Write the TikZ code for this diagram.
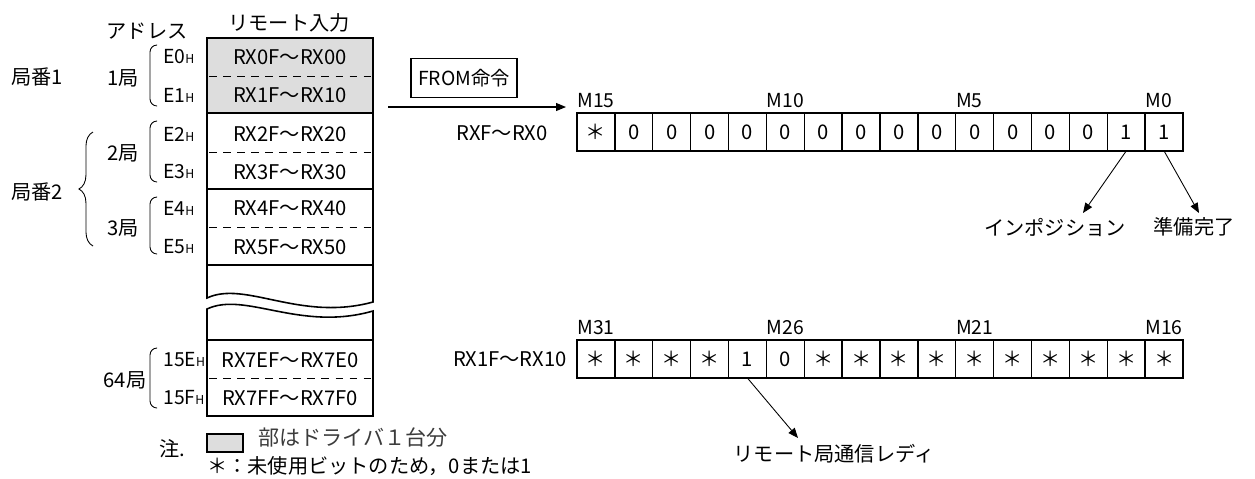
\documentclass[tikz,border=0pt]{standalone}
\usepackage{fontspec}
\setmainfont{Noto Sans CJK JP}
\usetikzlibrary{arrows.meta,decorations.pathreplacing}

\definecolor{shadegray}{RGB}{221,221,221}
\definecolor{notegray}{RGB}{60,60,60}
\newcommand{\addrH}{{\fontsize{7}{7}\selectfont H}}

\begin{document}
\begin{tikzpicture}[x=0.02cm,y=-0.02cm]
\tikzset{
  bitcell/.style={draw=black,line width=0.8pt,minimum width=0.7575cm,minimum height=0.76cm,inner sep=0pt,outer sep=0pt,font=\fontsize{11.5}{11.5}\selectfont},
  bitlabel/.style={anchor=base west,inner sep=0pt,font=\fontsize{11}{11}\selectfont},
  plaintext/.style={inner sep=0pt,font=\fontsize{11.5}{11.5}\selectfont},
  addrtext/.style={anchor=west,inner sep=0pt,font=\fontsize{11}{11}\selectfont},
  tableline/.style={draw=black,line width=0.9pt},
  rowsep/.style={draw=black,line width=0.5pt,dash pattern=on 4.5pt off 3.5pt},
  bracketline/.style={draw=black,line width=0.5pt,rounded corners=4pt},
  pointer/.style={draw=black,line width=0.5pt,-{Triangle[length=2mm,width=1.6mm]}}
}
\useasboundingbox (0,0) rectangle (1255,478);
% remote input table
\fill[shadegray] (207,38) rectangle (373,113);
\draw[tableline] (207,38) rectangle (373,265);
\draw[tableline] (207,113) -- (373,113);
\draw[tableline] (207,189) -- (373,189);
\draw[rowsep] (209,76) -- (371,76);
\draw[rowsep] (209,152) -- (371,152);
\draw[rowsep] (209,227) -- (371,227);
\draw[tableline] (207,265) -- (207,298) .. controls (245,280) and (300,322) .. (373,302) -- (373,265);
\draw[tableline] (207,340) -- (207,309) .. controls (245,291) and (300,332) .. (373,311) -- (373,340);
\draw[tableline] (207,340) rectangle (373,416);
\draw[rowsep] (209,378) -- (371,378);
\node[plaintext] (h_addr) at (147,31) {アドレス};
\node[plaintext] (h_remote) at (289,23) {リモート入力};
\node[plaintext] (row_E0) at (290,57) {RX0F～RX00};
\node[plaintext] (row_E1) at (290,95) {RX1F～RX10};
\node[plaintext] (row_E2) at (290,134) {RX2F～RX20};
\node[plaintext] (row_E3) at (290,172) {RX3F～RX30};
\node[plaintext] (row_E4) at (290,208) {RX4F～RX40};
\node[plaintext] (row_E5) at (290,247) {RX5F～RX50};
\node[plaintext] (row_15E) at (290,360) {RX7EF～RX7E0};
\node[plaintext] (row_15F) at (290,398) {RX7FF～RX7F0};
% addresses and stations
\node[addrtext] (a_E0) at (163,57) {E0\addrH};
\node[addrtext] (a_E1) at (163,95) {E1\addrH};
\node[addrtext] (a_E2) at (163,134) {E2\addrH};
\node[addrtext] (a_E3) at (163,172) {E3\addrH};
\node[addrtext] (a_E4) at (163,208) {E4\addrH};
\node[addrtext] (a_E5) at (163,247) {E5\addrH};
\node[addrtext] (a_15E) at (163,360) {15E\addrH};
\node[addrtext] (a_15F) at (163,398) {15F\addrH};
\draw[bracketline] (157,45) -| (150,106) -- (157,106);
\draw[bracketline] (157,121) -| (150,182) -- (157,182);
\draw[bracketline] (157,197) -| (150,254) -- (157,254);
\draw[bracketline] (157,348) -| (150,408) -- (157,408);
\node[plaintext] (st_1) at (123,78) {1局};
\node[plaintext] (st_2) at (123,153) {2局};
\node[plaintext] (st_3) at (123,228) {3局};
\node[plaintext] (st_64) at (125,380) {64局};
\node[plaintext] (no_1) at (37,77) {局番1};
\node[plaintext] (no_2) at (37,192) {局番2};
\draw[line width=0.5pt,decorate,decoration={brace,amplitude=8pt}] (93,246) -- (93,132);
% FROM instruction
\node[draw=black,line width=0.6pt,minimum width=2.12cm,minimum height=0.78cm,inner sep=0pt,font=\fontsize{11}{11}\selectfont] (from_box) at (464,78) {FROM命令};
\coordinate (from_tail) at (388,107);
\coordinate (from_head) at (566,107);
\draw[pointer,line width=0.6pt] (from_tail) -- (from_head);
% bit rows
\node[plaintext,anchor=east] (w_A) at (548,133) {RXF～RX0};
\node[plaintext,anchor=east] (w_B) at (567,359) {RX1F～RX10};
\node[bitcell] (c_A00) at (595.9,132) {＊};
\node[bitcell] (c_A01) at (633.8,132) {0};
\node[bitcell] (c_A02) at (671.7,132) {0};
\node[bitcell] (c_A03) at (709.6,132) {0};
\node[bitcell] (c_A04) at (747.4,132) {0};
\node[bitcell] (c_A05) at (785.3,132) {0};
\node[bitcell] (c_A06) at (823.2,132) {0};
\node[bitcell] (c_A07) at (861.1,132) {0};
\node[bitcell] (c_A08) at (898.9,132) {0};
\node[bitcell] (c_A09) at (936.8,132) {0};
\node[bitcell] (c_A10) at (974.7,132) {0};
\node[bitcell] (c_A11) at (1012.6,132) {0};
\node[bitcell] (c_A12) at (1050.4,132) {0};
\node[bitcell] (c_A13) at (1088.3,132) {0};
\node[bitcell] (c_A14) at (1126.2,132) {1};
\node[bitcell] (c_A15) at (1164.1,132) {1};
\node[bitcell] (c_B00) at (595.9,359) {＊};
\node[bitcell] (c_B01) at (633.8,359) {＊};
\node[bitcell] (c_B02) at (671.7,359) {＊};
\node[bitcell] (c_B03) at (709.6,359) {＊};
\node[bitcell] (c_B04) at (747.4,359) {1};
\node[bitcell] (c_B05) at (785.3,359) {0};
\node[bitcell] (c_B06) at (823.2,359) {＊};
\node[bitcell] (c_B07) at (861.1,359) {＊};
\node[bitcell] (c_B08) at (898.9,359) {＊};
\node[bitcell] (c_B09) at (936.8,359) {＊};
\node[bitcell] (c_B10) at (974.7,359) {＊};
\node[bitcell] (c_B11) at (1012.6,359) {＊};
\node[bitcell] (c_B12) at (1050.4,359) {＊};
\node[bitcell] (c_B13) at (1088.3,359) {＊};
\node[bitcell] (c_B14) at (1126.2,359) {＊};
\node[bitcell] (c_B15) at (1164.1,359) {＊};
\node[bitlabel] (m_15) at ([yshift=3pt]c_A00.north west) {M15};
\node[bitlabel] (m_10) at ([yshift=3pt]c_A05.north west) {M10};
\node[bitlabel] (m_5) at ([yshift=3pt]c_A10.north west) {M5};
\node[bitlabel] (m_0) at ([yshift=3pt]c_A15.north west) {M0};
\node[bitlabel] (m_31) at ([yshift=3pt]c_B00.north west) {M31};
\node[bitlabel] (m_26) at ([yshift=3pt]c_B05.north west) {M26};
\node[bitlabel] (m_21) at ([yshift=3pt]c_B10.north west) {M21};
\node[bitlabel] (m_16) at ([yshift=3pt]c_B15.north west) {M16};
% bit meanings
\node[plaintext] (l_inpos) at (1055,227) {インポジション};
\node[plaintext] (l_ready) at (1194,227) {準備完了};
\node[plaintext] (l_comm) at (834,454) {リモート局通信レディ};
\coordinate (t_inpos) at (1083,213);
\coordinate (t_ready) at (1199,213);
\coordinate (t_comm) at (798,438);
\draw[pointer] (c_A14.south) -- (t_inpos);
\draw[pointer] (c_A15.south) -- (t_ready);
\draw[pointer] (c_B04.south) -- (t_comm);
% notes
\node[plaintext] (n_mark) at (172,449) {注.};
\node[draw=black,line width=0.6pt,fill=shadegray,minimum width=0.72cm,minimum height=0.36cm,inner sep=0pt] (n_box) at (225,443) {};
\node[plaintext,anchor=west,text=notegray,font=\fontsize{12}{12}\selectfont] (n_shade) at (258,437) {部はドライバ１台分};
\node[plaintext,anchor=west] (n_star) at (207,466) {＊：未使用ビットのため，0または1};
\end{tikzpicture}
\end{document}
